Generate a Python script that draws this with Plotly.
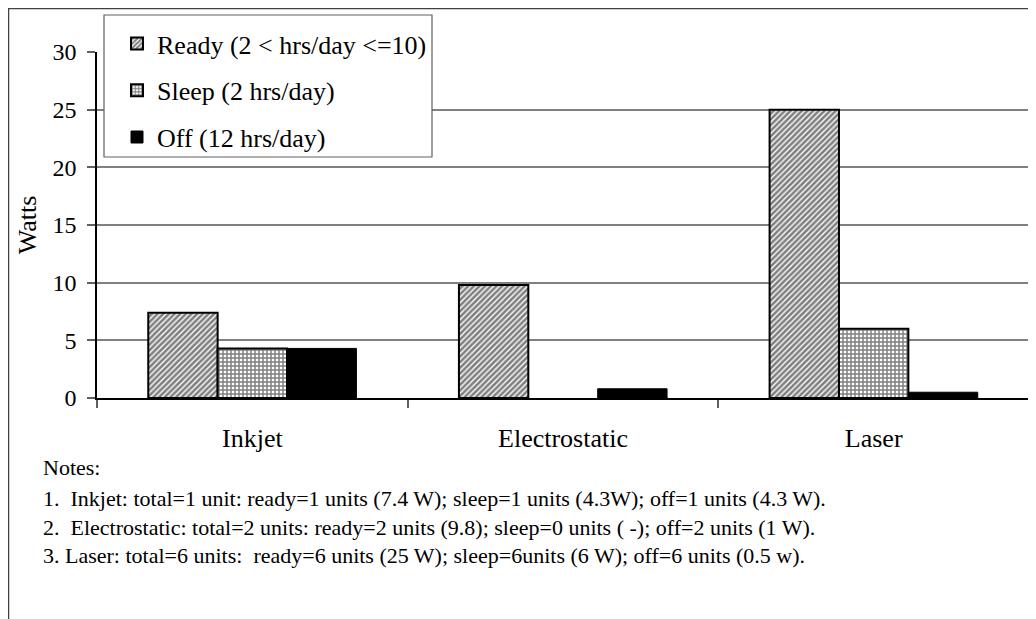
import plotly.graph_objects as go

categories = ["Inkjet", "Electrostatic", "Laser"]
ready = [7.4, 9.8, 25]
sleep = [4.3, 0, 6]
off = [4.3, 0.8, 0.5]
series_names = ["Ready (2 < hrs/day <=10)", "Sleep (2 hrs/day)", "Off (12 hrs/day)"]
y_ticks = [0, 5, 10, 15, 20, 25, 30]
notes = [
    "Notes:",
    "1.  Inkjet: total=1 unit: ready=1 units (7.4 W); sleep=1 units (4.3W); off=1 units (4.3 W).",
    "2.  Electrostatic: total=2 units: ready=2 units (9.8); sleep=0 units ( -); off=2 units (1 W).",
    "3. Laser: total=6 units:  ready=6 units (25 W); sleep=6units (6 W); off=6 units (0.5 w).",
]

FONT = "Liberation Serif"
# page body has an 8px margin; figure is sized to fit the window
PAGE = 8
W, H = 1036 - PAGE, 619 - PAGE
# plot area in screen pixels
PL, PR, PT, PB = 97, 1029, 52, 398
pw = PR - PL
ph = PB - PT

def px_x(x):
    return (x - PL) / pw

def px_y(y):
    return (PB - y) / ph

fig = go.Figure()
fig.add_trace(go.Bar(
    x=categories, y=ready, name=series_names[0], legendgroup="a",
    marker=dict(color="white", line=dict(color="black", width=2),
                pattern=dict(shape="/", fgcolor="black", bgcolor="white", size=4, solidity=0.65)),
))
fig.add_trace(go.Bar(
    x=categories, y=sleep, name=series_names[1], legendgroup="b",
    marker=dict(color="white", line=dict(color="black", width=[2, 0, 2]),
                pattern=dict(shape="+", fgcolor="black", bgcolor="white", size=4, solidity=0.6)),
))
fig.add_trace(go.Bar(
    x=categories, y=off, name=series_names[2], legendgroup="c",
    marker=dict(color="black", line=dict(color="black", width=1)),
))

# outer frame
fig.add_shape(type="rect", xref="paper", yref="paper",
              x0=px_x(PAGE + 0.5), x1=px_x(1060), y0=px_y(660), y1=px_y(PAGE + 0.5),
              line=dict(color="#404040", width=1.5), fillcolor="rgba(0,0,0,0)", layer="below")
# legend box
fig.add_shape(type="rect", xref="paper", yref="paper",
              x0=px_x(104), x1=px_x(432), y0=px_y(157), y1=px_y(15),
              line=dict(color="#606060", width=1.2), fillcolor="white", layer="above")

notes_y = [467, 498, 527, 555]
for txt, ny in zip(notes, notes_y):
    fig.add_annotation(text=txt, xref="paper", yref="paper", x=px_x(41), y=px_y(ny),
                       xanchor="left", yanchor="middle", showarrow=False,
                       font=dict(family=FONT, size=22, color="black"))

fig.update_layout(
    width=W, height=H,
    margin=dict(l=PL - PAGE, r=W - (PR - PAGE), t=PT - PAGE, b=H - (PB - PAGE), pad=0, autoexpand=False),
    paper_bgcolor="white", plot_bgcolor="white",
    barmode="group", bargap=0.33, bargroupgap=0,
    font=dict(family=FONT, color="black"),
    showlegend=True,
    legend=dict(x=px_x(117), y=px_y(20), xanchor="left", yanchor="top",
                bgcolor="rgba(0,0,0,0)", borderwidth=0,
                font=dict(family=FONT, size=26, color="black"),
                traceorder="grouped", tracegroupgap=10, itemwidth=30),
    xaxis=dict(type="category", showline=True, linecolor="black", linewidth=1.5,
               ticks="outside", ticklen=8, tickcolor="#606060", tickwidth=1.5,
               tickson="boundaries", showgrid=False, automargin=False,
               tickfont=dict(family=FONT, size=26), ticklabelstandoff=16),
    yaxis=dict(range=[0, 30], tickvals=y_ticks, showline=True, linecolor="black", linewidth=1.5,
               mirror=True, ticks="outside", ticklen=8, tickcolor="#606060", tickwidth=1.5,
               showgrid=True, gridcolor="#808080", gridwidth=1.5, zeroline=False, automargin=False,
               tickfont=dict(family=FONT, size=24), ticklabelstandoff=6,
               title=dict(text="Watts", font=dict(family=FONT, size=26), standoff=8)),
)

fig.write_html("out.html")
